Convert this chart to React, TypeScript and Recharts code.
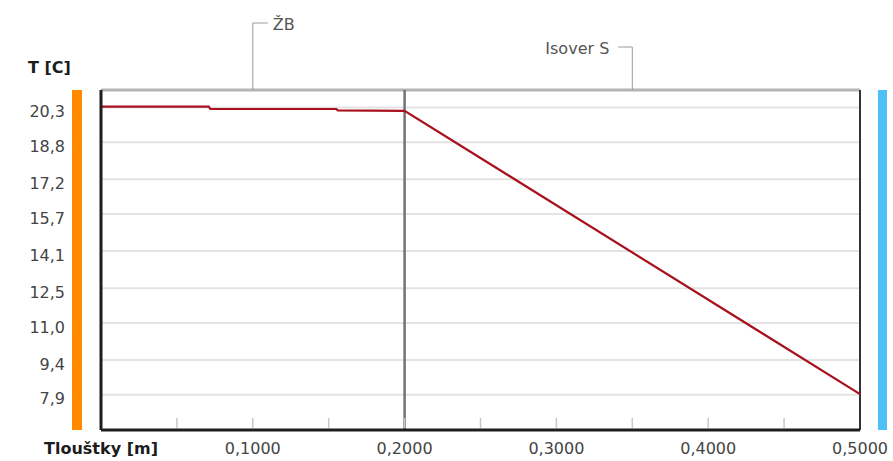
import React from "react";
import {
  LineChart,
  Line,
  XAxis,
  YAxis,
  CartesianGrid,
  ReferenceLine,
  Customized,
} from "recharts";

// temperature profile through the wall, inside -> outside
const thickness = [0, 0.071, 0.072, 0.155, 0.156, 0.2, 0.5];
const temperature = [20.33, 20.33, 20.23, 20.23, 20.17, 20.15, 7.93];

// wall layers and their boundaries [m]
const layerNames = ["ŽB", "Isover S"];
const layerBounds = [0, 0.2, 0.5];

const xTicks = [0, 0.05, 0.1, 0.15, 0.2, 0.25, 0.3, 0.35, 0.4, 0.45, 0.5];
const yTicks = [7.9, 9.4, 11.0, 12.5, 14.1, 15.7, 17.2, 18.8, 20.3];
const yDomain = [6.38, 21.05];

const xTitle = "Tlouštky [m]";
const yTitle = "T [C]";

const W = 893;
const H = 461;
const M = { top: 90, right: 33, bottom: 0, left: 0 };
const Y_AXIS_W = 101;
const X_AXIS_H = 31;
const X_TICK_MARGIN = 13;

const data = thickness.map((x, i) => ({ x, t: temperature[i] }));
const layerMids = layerNames.map((_, i) => (layerBounds[i] + layerBounds[i + 1]) / 2);

const fmt = (v: number, d: number) => v.toFixed(d).replace(".", ",");

function BottomTick(props: any) {
  const { x, y, index } = props;
  const axisY = y - X_TICK_MARGIN;
  let label: React.ReactNode = null;
  if (index === 0) {
    label = (
      <text x={x} y={y} dy="0.71em" textAnchor="middle" fontWeight="bold" fontSize={16} fill="#1c1c1c">
        {xTitle}
      </text>
    );
  } else if (index % 2 === 0) {
    label = (
      <text x={x} y={y} dy="0.71em" textAnchor="middle" fontSize={16} fill="#444">
        {fmt(xTicks[index], 4)}
      </text>
    );
  }
  return (
    <g>
      {index > 0 && index < xTicks.length - 1 && (
        <line x1={x} x2={x} y1={axisY - 2} y2={axisY - 12} stroke="#c8c8c8" strokeWidth={1.5} />
      )}
      {label}
    </g>
  );
}

// layer name with a small bracket line pointing down at the layer middle
function LayerLabel(props: any) {
  const { viewBox, index } = props;
  if (!viewBox) return null;
  const x = viewBox.x;
  const y = viewBox.y;
  const even = index % 2 === 0;
  const top = y - (even ? 67 : 43);
  const hx = even ? x + 15 : x - 14;
  return (
    <g>
      <polyline
        points={`${x},${y} ${x},${top} ${hx},${top}`}
        fill="none"
        stroke="#9a9a9a"
        strokeWidth={1}
      />
      <text
        x={even ? hx + 5 : hx - 9}
        y={top + 7}
        textAnchor={even ? "start" : "end"}
        fontSize={16}
        fill="#555"
      >
        {layerNames[index]}
      </text>
    </g>
  );
}

// inside / outside surface strips and the temperature axis title
function Decor() {
  const plotTop = M.top;
  const plotH = H - M.top - M.bottom - X_AXIS_H;
  return (
    <g>
      <rect x={72} y={plotTop} width={10} height={plotH} fill="#ff8a00" />
      <rect x={878} y={plotTop} width={9} height={plotH} fill="#4fc0f5" />
      <text x={28} y={73} fontSize={16} fontWeight="bold" fill="#1c1c1c">
        {yTitle}
      </text>
    </g>
  );
}

export default function App() {
  return (
    <div
      style={{
        position: "absolute",
        left: 0,
        top: 0,
        width: W,
        height: H,
        background: "#fff",
        fontFamily: "'DejaVu Sans', sans-serif",
      }}
    >
      <LineChart width={W} height={H} data={data} margin={M}>
        <CartesianGrid vertical={false} stroke="#e3e3e3" strokeWidth={2} />
        <XAxis
          dataKey="x"
          type="number"
          domain={[0, 0.5]}
          ticks={xTicks}
          interval={0}
          height={X_AXIS_H}
          tickSize={0}
          tickMargin={X_TICK_MARGIN}
          tickLine={false}
          axisLine={{ stroke: "#1e1e1e", strokeWidth: 3 }}
          tick={<BottomTick />}
        />
        <YAxis
          type="number"
          domain={yDomain}
          ticks={yTicks}
          interval={0}
          width={Y_AXIS_W}
          tickSize={0}
          tickMargin={36}
          tickLine={false}
          axisLine={{ stroke: "#1e1e1e", strokeWidth: 3 }}
          tick={{ fill: "#444", fontSize: 16, dy: 4 }}
          tickFormatter={(v: number) => fmt(v, 1)}
        />
        <ReferenceLine y={yDomain[1]} stroke="#b4b4b4" strokeWidth={3} />
        <ReferenceLine x={layerBounds[2]} stroke="#333" strokeWidth={2} />
        <ReferenceLine x={layerBounds[1]} stroke="#737373" strokeWidth={2.5} />
        {layerMids.map((m, i) => (
          <ReferenceLine
            key={layerNames[i]}
            x={m}
            stroke="none"
            label={(p: any) => <LayerLabel {...p} index={i} />}
          />
        ))}
        <Line
          type="linear"
          dataKey="t"
          stroke="#a8101c"
          strokeWidth={2.2}
          dot={false}
          isAnimationActive={false}
        />
        <Customized component={Decor} />
      </LineChart>
    </div>
  );
}
